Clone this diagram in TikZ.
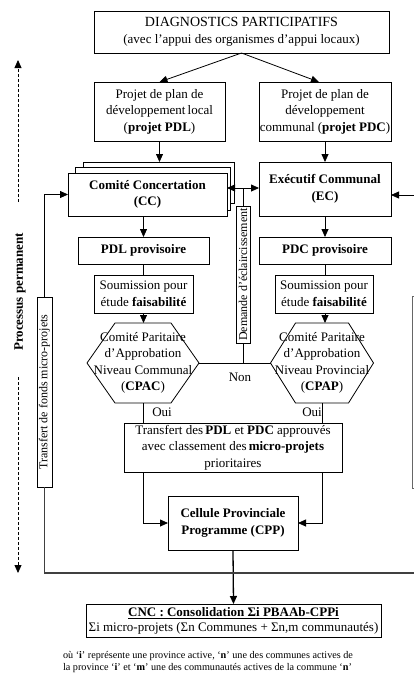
\documentclass[tikz,border=0pt]{standalone}
\usepackage{fontspec}
\setmainfont{Liberation Serif}
\usetikzlibrary{arrows.meta,calc}
\newcommand\mfont{\fontsize{13}{16.5}\selectfont}
\newcommand\vfont{\fontsize{12}{14}\selectfont}
\newcommand\nfont{\fontsize{10.2}{12}\selectfont}
\begin{document}
\begin{tikzpicture}[x=1pt,y=-1pt,
  every node/.style={font=\mfont, inner sep=0pt, outer sep=0pt},
  ln/.style={line width=0.8pt},
  box/.style={draw, ln, fill=white, align=center},
  arr/.style={ln, -{Triangle[length=8pt,width=7pt]}},
  hexline/.style={ln},
  vbox/.style={box, rotate=90, font=\vfont},
  dasharr/.style={ln, dash pattern=on 3pt off 2pt, -{Triangle[length=8pt,width=7pt]}},
]
\useasboundingbox (0,0) rectangle (414,691);

% top level
\node[box, minimum width=295, minimum height=42] (diag) at (241.5,32)
  {{\fontsize{14}{16.5}\selectfont DIAGNOSTICS PARTICIPATIFS}\\(avec l’appui des organismes d’appui locaux)};
\node[box, minimum width=131, minimum height=59] (pdlp) at (159.5,111.5)
  {Projet de plan de\\développement\,local\\(\textbf{projet PDL})};
\node[box, minimum width=132, minimum height=59] (pdcp) at (325,111.5)
  {Projet de plan de\\développement\\communal (\textbf{projet PDC})};

% stacked committee boxes
\node[box, minimum width=151, minimum height=41] (cc3) at (158.5,182.5) {};
\node[box, minimum width=155, minimum height=43] (cc2) at (152.5,188.5) {};
\node[box, minimum width=159, minimum height=43] (cc) at (147.5,194.5)
  {\textbf{Comité Concertation}\\\textbf{(CC)}};
\node[box, minimum width=132, minimum height=54] (ec) at (325,189)
  {\textbf{Exécutif Communal}\\\textbf{(EC)}};

\node[box, minimum width=131, minimum height=27] (pdlprov) at (143.5,250.5)
  {\textbf{PDL provisoire}};
\node[box, minimum width=132, minimum height=27] (pdcprov) at (325,250.5)
  {\textbf{PDC provisoire}};

\node[box, minimum width=99, minimum height=38] (soumL) at (143.5,294)
  {Soumission pour\\étude \textbf{faisabilité}};
\node[box, minimum width=98, minimum height=38] (soumR) at (324,294)
  {Soumission pour\\étude \textbf{faisabilité}};

% approval committees (hexagons)
\node[minimum width=112, minimum height=80, align=center] (cpac) at (143,363)
  {Comité Paritaire\\d’Approbation\\Niveau Communal\\(\textbf{CPAC})};
\draw[hexline] (cpac.west) -- ([xshift=28]cpac.north west) -- ([xshift=-28]cpac.north east)
  -- (cpac.east) -- ([xshift=-28]cpac.south east) -- ([xshift=28]cpac.south west) -- cycle;
\node[minimum width=103, minimum height=80, align=center] (cpap) at (322,363)
  {Comité Paritaire\\d’Approbation\\Niveau Provincial\\(\textbf{CPAP})};
\draw[hexline] (cpap.west) -- ([xshift=25]cpap.north west) -- ([xshift=-25]cpap.north east)
  -- (cpap.east) -- ([xshift=-25]cpap.south east) -- ([xshift=25]cpap.south west) -- cycle;

\node[vbox, minimum width=137, minimum height=14] (dem) at (243,274.5)
  {Demande d’éclaircissement};
\node (non) at (240,377) {Non};
\node (ouiL) at (162,412) {Oui};
\node (ouiR) at (312,412) {Oui};

\node[box, minimum width=218, minimum height=49] (tr) at (233,447.5)
  {Transfert des\,\textbf{PDL} et \textbf{PDC} approuvés\\avec classement des\,\textbf{micro-projets}\\prioritaires};
\node[box, minimum width=130, minimum height=54] (cpp) at (233,523)
  {\textbf{Cellule Provinciale}\\\textbf{Programme (CPP)}};
\node[box, minimum width=295, minimum height=33, font=\fontsize{13}{15}\selectfont] (cnc) at (233.5,620.5)
  {\textbf{\underline{CNC : Consolidation Σi PBAAb-CPPi}}\\Σi micro-projets (Σn Communes + Σn,m communautés)};

\node[vbox, minimum width=190, minimum height=15] (tf) at (44.5,392)
  {Transfert de fonds micro-projets};

% side label with dashed double arrow
\node[rotate=90, font=\fontsize{13}{16}\selectfont\bfseries] (proc) at (20,292)
  {Processus permanent};
\coordinate (ptop) at (18,60);
\coordinate (pa) at (18,202);
\coordinate (pb) at (18,377);
\coordinate (pbot) at (18,573);
\draw[dasharr] (pa) -- (ptop);
\draw[dasharr] (pb) -- (pbot);

% connectors
\draw[arr] (diag.south) -- (pdlp.north);
\draw[arr] (diag.south) -- ([xshift=-6]pdcp.north);
\draw[arr] (pdlp.south) -- (pdlp.south |- cc3.north);
\draw[arr] (pdcp.south) -- (ec.north);
\draw[arr] (cc.south -| pdlprov.north) -- (pdlprov.north);
\draw[arr] (ec.south) -- (pdcprov.north);
\draw[ln] (pdlprov.south) -- (soumL.north);
\draw[ln] (pdcprov.south) -- (pdcprov.south |- soumR.north);
\draw[arr] (soumL.south) -- (soumL.south |- cpac.north);
\draw[arr] (soumR.south -| pdcprov.south) -- (pdcprov.south |- cpap.north);

\coordinate (jn) at (243,188);
\draw[arr] (jn) -- (jn -| cc.east);
\draw[arr] (jn) -- (jn -| ec.west);
\draw[ln] (jn) -- (dem.east);
\draw[ln] (dem.west) -- (dem.west |- cpac.east);
\draw[ln] (cpac.east) -- (cpap.west);

\draw[ln] (cpac.south) -- (cpac.south |- tr.north);
\draw[ln] (cpap.south) -- (cpap.south |- tr.north);
\draw[arr] (tr.south -| cpac.south) |- (cpp.west);
\draw[arr] (tr.south -| cpap.south) |- (cpp.east);
\draw[arr, line width=1.3pt] (cpp.south) -- (cnc.north);

% feedback loop towards the concertation committee
\coordinate (rb) at (414,573);
\draw[ln, draw=black!75, line width=1.1pt] (rb) -| (tf.west);
\draw[arr] (tf.east) |- (cc.west);

% arrow entering from the right
\coordinate (re) at (414,195);
\draw[arr] (re) -- (re -| ec.east);
\draw[ln, draw=black!60] (414,296) -- (412,296) -- (412,488) -- (414,488);

% footnote
\node[anchor=west, align=left, font=\nfont] (note) at (63,662)
  {où ‘\textbf{i}’ représente une province active, ‘\textbf{n}’ une des communes actives de\\
   la province ‘\textbf{i}’ et ‘\textbf{m}’ une des communautés actives de la commune ‘\textbf{n}’};
\end{tikzpicture}
\end{document}
